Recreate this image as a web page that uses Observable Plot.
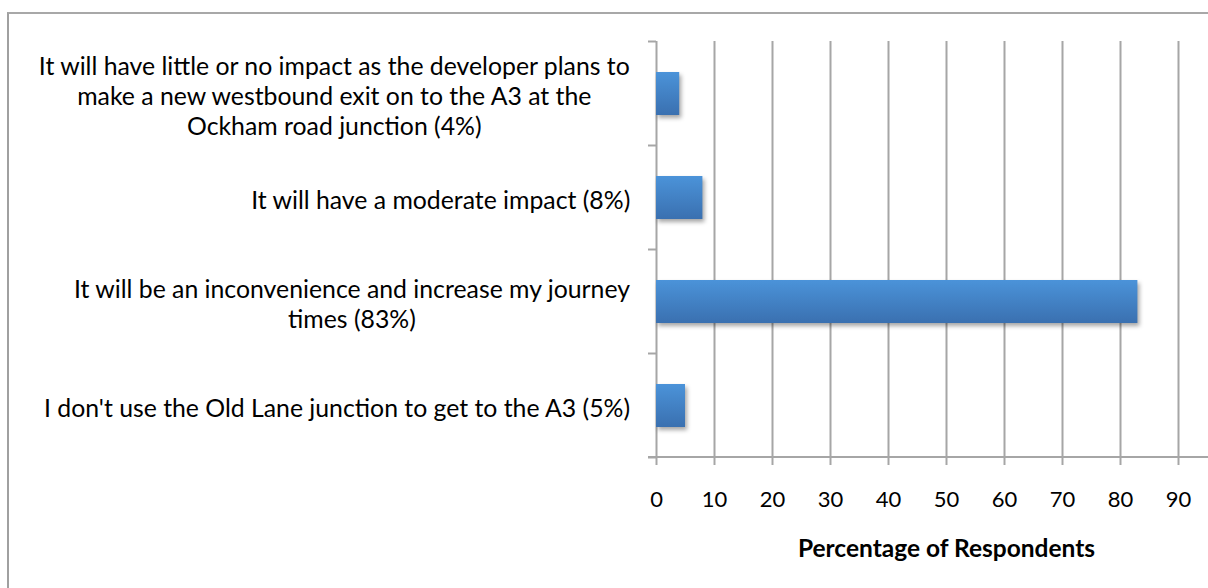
<!DOCTYPE html>
<html><head><meta charset="utf-8">
<script src="https://cdn.jsdelivr.net/npm/d3@7"></script>
<script src="https://cdn.jsdelivr.net/npm/@observablehq/plot@0.6"></script>
<style>
html,body{margin:0;padding:0;background:#fff;}
#wrap{position:relative;width:1208px;height:588px;overflow:hidden;}
#border{position:absolute;left:7px;top:12px;width:1240px;height:620px;border-left:2px solid #a0a0a0;border-top:2px solid #a8a8a8;pointer-events:none;}
.bars rect{filter:drop-shadow(2px 3px 2px rgba(0,0,0,0.35));}
</style></head><body>
<svg width="0" height="0" style="position:absolute">
<defs><linearGradient id="barGrad" x1="0" y1="0" x2="0" y2="1">
<stop offset="0" stop-color="#4b93d9"/><stop offset="1" stop-color="#3a70b0"/></linearGradient></defs></svg>
<div id="wrap"></div>
<script>
const categories = ["little", "moderate", "inconvenience", "notuse"];
const labelLines = [
  ["It will have little or no impact as the developer plans to", "make a new westbound exit on to the A3 at the", "Ockham road junction (4%)"],
  ["It will have a moderate impact (8%)"],
  ["It will be an inconvenience and increase my journey", "times (83%)"],
  ["I don't use the Old Lane junction to get to the A3 (5%)"]
];
const values = [4, 8, 83, 5];
const xTicks = [0, 10, 20, 30, 40, 50, 60, 70, 80, 90];
const xTitle = "Percentage of Respondents";

const gridColor = "#a6a6a6";
const labelSize = 24.8;
const tickFontSize = 22;
const titleSize = 24.5;
const tickLen = 8;

const data = categories.map((c, i) => ({category: c, value: values[i]}));

const ctx = document.createElement("canvas").getContext("2d");
ctx.font = `${labelSize}px Lato`;
const labelMarks = categories.map((c, i) => {
  const lines = labelLines[i];
  const w = d3.max(lines, l => ctx.measureText(l).width);
  return Plot.text([c], {
    y: d => d, frameAnchor: "left", text: () => lines.join("\n"),
    textAnchor: "middle", dx: -(26 + w / 2), dy: 1,
    lineHeight: 30 / labelSize, fontSize: labelSize, fill: "#000"
  });
});

function axisFrame(index, scales, values, dims) {
  const {x, y} = scales;
  const {width, height, marginBottom} = dims;
  const bw = y.bandwidth(), st = y.step();
  const tops = categories.map(c => y(c) - (st - bw) / 2);
  tops.push(tops[tops.length - 1] + st);
  const x0 = x(0);
  const g = d3.create("svg:g").attr("stroke", gridColor).attr("stroke-width", 2).attr("fill", "none");
  for (const t of tops) g.append("line").attr("x1", x0 - tickLen).attr("x2", x0).attr("y1", t).attr("y2", t);
  const b = height - marginBottom;
  g.append("line").attr("x1", x0 - tickLen).attr("x2", width).attr("y1", b).attr("y2", b);
  return g.node();
}

const chart = Plot.plot({
  width: 1208, height: 588,
  marginLeft: 656, marginRight: 30, marginTop: 41, marginBottom: 131,
  style: {fontFamily: "Lato, sans-serif", fontSize: tickFontSize + "px", color: "#000", background: "white"},
  x: {domain: [0, 90], ticks: xTicks, label: null},
  y: {domain: categories, paddingInner: 0.59, paddingOuter: 0.295, axis: null, label: null},
  marks: [
    Plot.gridX(xTicks, {stroke: gridColor, strokeOpacity: 1, strokeWidth: 2}),
    axisFrame,
    Plot.axisX(xTicks, {tickSize: tickLen, tickPadding: 26, stroke: gridColor, strokeWidth: 2, strokeOpacity: 1, fill: "#000", label: null, fontSize: tickFontSize}),
    Plot.barX(data, {x: "value", y: "category", fill: "url(#barGrad)", className: "bars"}),
    ...labelMarks,
    Plot.text([xTitle], {frameAnchor: "bottom", dx: 29, dy: 99, text: d => d, fontWeight: "bold", fontSize: titleSize, fill: "#000"})
  ]
});
const wrap = document.getElementById("wrap");
wrap.appendChild(chart);
const border = document.createElement("div");
border.id = "border";
wrap.appendChild(border);
</script>
</body></html>
